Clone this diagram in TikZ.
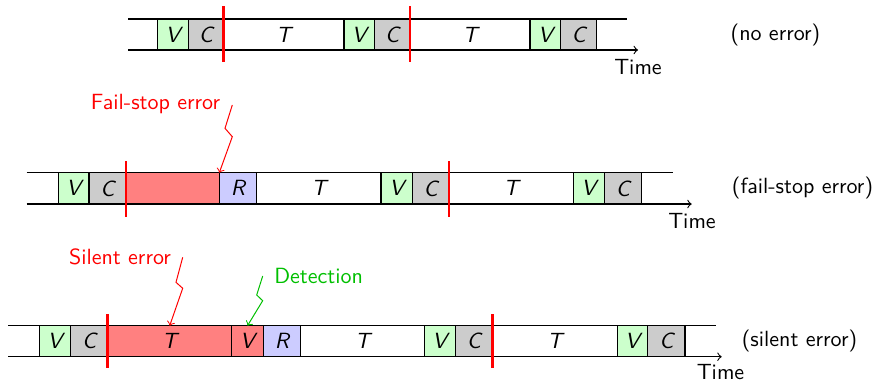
\documentclass[tikz,border=0pt]{standalone}
\usepackage{fontspec}
\newcommand\segbox[7]{%
  \node[segment, fill=#6, minimum width={(#3-#2)*0.4545pt}, minimum height={(#5-#4)*0.4545pt}] (#1) at ({(#2+#3)/2},{(#4+#5)/2}) {#7};}
\tikzset{
  segment/.style={draw=black, line width=0.5pt, inner sep=0pt, outer sep=0pt, font=\sffamily\itshape},
  ckpt/.style={red, line width=1.1pt},
  axis/.style={line width=0.5pt},
  hit/.style={->, line width=0.45pt},
  lbl/.style={font=\sffamily, inner sep=0pt},
  vcol/.style={}, 
}
\colorlet{vfill}{green!20}
\colorlet{cfill}{gray!40}
\colorlet{rfill}{blue!20}
\colorlet{efill}{red!50}
\colorlet{detgreen}{green!75!black}
\begin{document}
\begin{tikzpicture}[x=0.4545pt, y=-0.4545pt]
\coordinate (bbA) at (0,0);
\coordinate (bbB) at (878,381);
\useasboundingbox (bbA) rectangle (bbB);

% ---------- Row 1 : no error ----------
\coordinate (a1s) at (128,19);
\coordinate (a1e) at (626.7,19);
\coordinate (b1s) at (128,50);
\coordinate (b1e) at (638,50);
\segbox{r1V1}{157.7}{188.3}{19}{50}{vfill}{V}
\segbox{r1C1}{188.3}{223.3}{19}{50}{cfill}{C}
\segbox{r1T1}{223.3}{344}{19}{50}{white}{T}
\segbox{r1V2}{344}{374.3}{19}{50}{vfill}{V}
\segbox{r1C2}{374.3}{410}{19}{50}{cfill}{C}
\segbox{r1T2}{410}{530}{19}{50}{white}{T}
\segbox{r1V3}{530}{560.7}{19}{50}{vfill}{V}
\segbox{r1C3}{560.7}{596.7}{19}{50}{cfill}{C}
\draw[axis] (a1s) -- (a1e);
\draw[axis,->] (b1s) -- (b1e);
\coordinate (k1a) at (223.3,6);  \coordinate (k1b) at (223.3,62);
\coordinate (k1c) at (410,6);    \coordinate (k1d) at (410,62);
\draw[ckpt] (k1a) -- (k1b);
\draw[ckpt] (k1c) -- (k1d);
\node[lbl, anchor=base] (time1) at (638,74) {Time};
\node[lbl] (lab1) at (775.5,34.5) {(no error)};

% ---------- Row 2 : fail-stop error ----------
\coordinate (a2s) at (26.7,172.7);
\coordinate (a2e) at (673.3,172.7);
\coordinate (b2s) at (26.7,204);
\coordinate (b2e) at (691.7,204);
\segbox{r2V1}{58.3}{89}{172.7}{204}{vfill}{V}
\segbox{r2C1}{89}{126}{172.7}{204}{cfill}{C}
\segbox{r2E}{126}{219.3}{172.7}{204}{efill}{}
\segbox{r2R}{219.3}{256.7}{172.7}{204}{rfill}{R}
\segbox{r2T1}{256.7}{381}{172.7}{204}{white}{T}
\segbox{r2V2}{381}{412.3}{172.7}{204}{vfill}{V}
\segbox{r2C2}{412.3}{449}{172.7}{204}{cfill}{C}
\segbox{r2T2}{449}{573.3}{172.7}{204}{white}{T}
\segbox{r2V3}{573.3}{604.3}{172.7}{204}{vfill}{V}
\segbox{r2C3}{604.3}{641.7}{172.7}{204}{cfill}{C}
\draw[axis] (a2s) -- (a2e);
\draw[axis,->] (b2s) -- (b2e);
\coordinate (k2a) at (126,161);  \coordinate (k2b) at (126,216.7);
\coordinate (k2c) at (449,161);  \coordinate (k2d) at (449,216.7);
\draw[ckpt] (k2a) -- (k2b);
\draw[ckpt] (k2c) -- (k2d);
\node[lbl, anchor=base] (time2) at (692,228) {Time};
\node[lbl] (lab2) at (802.5,188.4) {(fail-stop error)};
\node[lbl, red, anchor=base] (fslbl) at (155.5,109.5) {Fail-stop error};
\coordinate (fs0) at (232.3,105);
\coordinate (fs1) at (225,128.3);
\coordinate (fs2) at (232.3,136.7);
\draw[hit, red] (fs0) -- (fs1) -- (fs2) -- (r2R.north west);

% ---------- Row 3 : silent error ----------
\coordinate (a3s) at (8,325.7);
\coordinate (a3e) at (716,325.7);
\coordinate (b3s) at (8,356.7);
\coordinate (b3e) at (721.7,356.7);
\segbox{r3V1}{39.3}{70.7}{325.7}{356.7}{vfill}{V}
\segbox{r3C1}{70.7}{107.7}{325.7}{356.7}{cfill}{C}
\segbox{r3ET}{107.7}{231.7}{325.7}{356.7}{efill}{T}
\segbox{r3EV}{231.7}{263.3}{325.7}{356.7}{efill}{V}
\segbox{r3R}{263.3}{300.7}{325.7}{356.7}{rfill}{R}
\segbox{r3T1}{300.7}{424.3}{325.7}{356.7}{white}{T}
\segbox{r3V2}{424.3}{455.3}{325.7}{356.7}{vfill}{V}
\segbox{r3C2}{455.3}{492.3}{325.7}{356.7}{cfill}{C}
\segbox{r3T2}{492.3}{617.3}{325.7}{356.7}{white}{T}
\segbox{r3V3}{617.3}{647.7}{325.7}{356.7}{vfill}{V}
\segbox{r3C3}{647.7}{685}{325.7}{356.7}{cfill}{C}
\draw[axis] (a3s) -- (a3e);
\draw[axis,->] (b3s) -- (b3e);
\coordinate (k3a) at (107.7,314);  \coordinate (k3b) at (107.7,368);
\coordinate (k3c) at (492.3,314);  \coordinate (k3d) at (492.3,368);
\draw[ckpt] (k3a) -- (k3b);
\draw[ckpt] (k3c) -- (k3d);
\node[lbl, anchor=base] (time3) at (720.5,379.5) {Time};
\node[lbl] (lab3) at (799.5,341.2) {(silent error)};
\node[lbl, red, anchor=base] (silbl) at (120,264.5) {Silent error};
\node[lbl, detgreen, anchor=base] (detlbl) at (318.7,283.3) {Detection};
\coordinate (sl0) at (182.7,257.3);
\coordinate (sl1) at (176,282.3);
\coordinate (sl2) at (182.7,288.3);
\draw[hit, red] (sl0) -- (sl1) -- (sl2) -- (r3ET.north);
\coordinate (dt0) at (262.7,276);
\coordinate (dt1) at (256.7,295);
\coordinate (dt2) at (262.7,300.7);
\draw[hit, detgreen] (dt0) -- (dt1) -- (dt2) -- (r3EV.north);
\end{tikzpicture}
\end{document}
